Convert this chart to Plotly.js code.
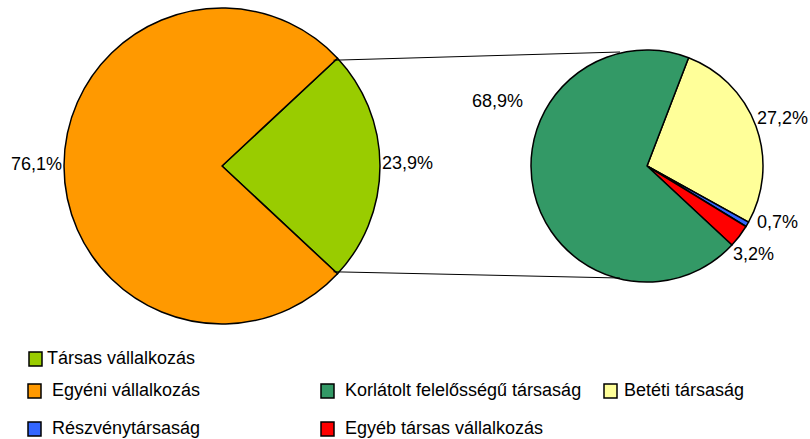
<!DOCTYPE html>
<html><head><meta charset="utf-8">
<script src="https://cdn.plot.ly/plotly-3.0.1.min.js"></script>
<style>html,body{margin:0;padding:0;background:#fff}#c{width:810px;height:439px}</style>
</head><body><div id="c"></div>
<script>
// Data
const mainLabels = ['Társas vállalkozás', 'Egyéni vállalkozás'];
const mainValues = [23.9, 76.1];
const mainColors = ['#99CC00', '#FF9900'];

const subLabels = ['Betéti társaság', 'Részvénytársaság', 'Egyéb társas vállalkozás', 'Korlátolt felelősségű társaság'];
const subValues = [27.2, 0.7, 3.2, 68.9];
const subColors = ['#FFFF99', '#3366FF', '#FF0000', '#339966'];

const legendOrder = [
  ['Társas vállalkozás', '#99CC00'],
  ['Egyéni vállalkozás', '#FF9900'],
  ['Korlátolt felelősségű társaság', '#339966'],
  ['Betéti társaság', '#FFFF99'],
  ['Részvénytársaság', '#3366FF'],
  ['Egyéb társas vállalkozás', '#FF0000']
];

const W = 810, H = 439;
const px = x => x / W, py = y => (H - y) / H;
const fmt = v => v.toFixed(1).replace('.', ',') + '%';

// geometry
const bigC = [222, 166], bigR = 158;
const smC = [647, 166], smR = 116;
const half = mainValues[0] / 100 * 180;

const data = [
  {type: 'pie', labels: mainLabels, values: mainValues, sort: false, direction: 'clockwise',
   rotation: 90 - half, marker: {colors: mainColors, line: {color: '#000', width: 1.5}},
   textinfo: 'none', hoverinfo: 'label+percent', showlegend: false,
   domain: {x: [px(bigC[0] - bigR), px(bigC[0] + bigR)], y: [py(bigC[1] + bigR), py(bigC[1] - bigR)]}},
  {type: 'pie', labels: subLabels, values: subValues, sort: false, direction: 'clockwise',
   rotation: 21, marker: {colors: subColors, line: {color: '#000', width: 1.5}},
   textinfo: 'none', hoverinfo: 'label+percent', showlegend: false,
   domain: {x: [px(smC[0] - smR), px(smC[0] + smR)], y: [py(smC[1] + smR), py(smC[1] - smR)]}}
];

const FAM = 'Liberation Sans, Arial, sans-serif';
const font = {family: FAM, size: 18, color: '#000'};
const annotations = [];
function lab(text, x, y, xa) {
  annotations.push({text, x: px(x), y: py(y), xref: 'paper', yref: 'paper', showarrow: false,
    xanchor: xa || 'center', yanchor: 'middle', font});
}
lab(fmt(mainValues[1]), 36, 164);
lab(fmt(mainValues[0]), 408, 163);
lab(fmt(subValues[3]), 497, 101);
lab(fmt(subValues[0]), 782, 118);
lab(fmt(subValues[1]), 777, 222);
lab(fmt(subValues[2]), 753, 254);

const shapes = [];
const a = half * Math.PI / 180;
const sx = bigC[0] + bigR * Math.cos(a);
shapes.push({type: 'line', xref: 'paper', yref: 'paper', x0: px(sx - 4), y0: py(bigC[1] - bigR * Math.sin(a) + 2), x1: px(620), y1: py(52), line: {color: '#000', width: 1}});
shapes.push({type: 'line', xref: 'paper', yref: 'paper', x0: px(sx - 4), y0: py(bigC[1] + bigR * Math.sin(a) - 2), x1: px(620), y1: py(278), line: {color: '#000', width: 1}});

// legend
const legPos = [[29, 359, 45], [28, 391, 50], [321, 391, 343], [604, 391, 622], [28, 429, 50], [321, 429, 343]];
legendOrder.forEach((e, i) => {
  const [x, y, tx] = legPos[i];
  shapes.push({type: 'rect', xref: 'paper', yref: 'paper', x0: px(x), x1: px(x + 13), y0: py(y + 7), y1: py(y - 7),
    fillcolor: e[1], line: {color: '#000', width: 1.5}});
  annotations.push({text: e[0], x: px(tx), y: py(y - 1), xref: 'paper', yref: 'paper', showarrow: false,
    xanchor: 'left', yanchor: 'middle', font});
});

const layout = {width: W, height: H, margin: {l: 0, r: 0, t: 0, b: 0}, paper_bgcolor: '#fff',
  showlegend: false, annotations, shapes};
Plotly.newPlot('c', data, layout, {displayModeBar: false, staticPlot: true});
</script></body></html>
